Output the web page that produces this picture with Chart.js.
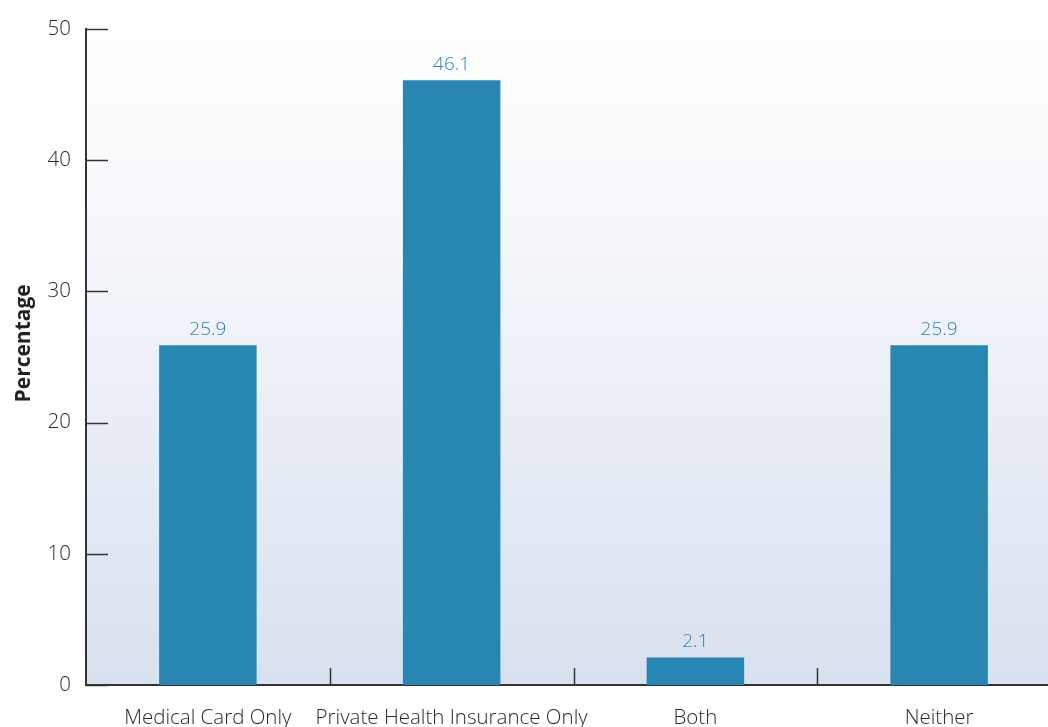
<!DOCTYPE html>
<html>
<head>
<meta charset="utf-8">
<script src="https://cdn.jsdelivr.net/npm/chart.js@4"></script>
<style>
  html, body { margin: 0; padding: 0; background: #fff; overflow: hidden; }
  #wrap { width: 1061px; height: 727px; }
</style>
</head>
<body>
<div id="wrap"><canvas id="c"></canvas></div>
<script>
const categories = ['Medical Card Only', 'Private Health Insurance Only', 'Both', 'Neither']
const percentages = [25.9, 46.1, 2.1, 25.9]
const yTicks = [0, 10, 20, 30, 40, 50]

const barColor = '#2886b3'
const axisColor = '#333333'
const textFont = 'Open Sans'

// gradient behind the bars
const backdrop = {
  id: 'backdrop',
  beforeDraw(chart) {
    const { ctx, chartArea: a } = chart
    const g = ctx.createLinearGradient(0, a.top, 0, a.bottom)
    g.addColorStop(0, '#ffffff')
    g.addColorStop(0.25, '#f8f9fc')
    g.addColorStop(1, '#d8e1ee')
    ctx.save()
    ctx.fillStyle = g
    ctx.fillRect(a.left, a.top, a.right - a.left, a.bottom - a.top)
    ctx.restore()
  }
}

// inward ticks + value labels
const marks = {
  id: 'marks',
  afterDraw(chart) {
    const { ctx, chartArea: a, scales } = chart
    const y = scales.y, x = scales.x
    ctx.save()
    ctx.strokeStyle = axisColor
    ctx.lineWidth = 1.5
    y.ticks.forEach((t, i) => {
      const py = Math.round(y.getPixelForTick(i)) + 0.5
      ctx.beginPath()
      ctx.moveTo(a.left, py)
      ctx.lineTo(a.left + 22, py)
      ctx.stroke()
    })
    for (let i = 0; i < categories.length - 1; i++) {
      const px = Math.round((x.getPixelForTick(i) + x.getPixelForTick(i + 1)) / 2) + 0.5
      ctx.beginPath()
      ctx.moveTo(px, a.bottom)
      ctx.lineTo(px, a.bottom - 17)
      ctx.stroke()
    }
    ctx.fillStyle = barColor
    ctx.font = '300 19px "' + textFont + '"'
    ctx.textAlign = 'center'
    ctx.textBaseline = 'middle'
    chart.getDatasetMeta(0).data.forEach((bar, i) => {
      ctx.fillText(percentages[i].toFixed(1), bar.x, bar.y - 16)
    })
    ctx.restore()
  }
}

new Chart(document.getElementById('c'), {
  type: 'bar',
  data: {
    labels: categories,
    datasets: [{
      data: percentages,
      backgroundColor: barColor,
      barPercentage: 0.4,
      categoryPercentage: 1
    }]
  },
  options: {
    responsive: true,
    maintainAspectRatio: false,
    animation: false,
    layout: { padding: { top: 29, right: 0, left: 0, bottom: 0 } },
    plugins: { legend: { display: false }, tooltip: { enabled: false } },
    scales: {
      x: {
        offset: true,
        grid: { display: false, drawTicks: false },
        border: { display: true, color: axisColor, width: 2 },
        ticks: { color: '#2a2a2a', font: { family: textFont, size: 20.5, weight: '300' }, padding: 21, maxRotation: 0, autoSkip: false },
        afterFit(s) { s.height = 42 }
      },
      y: {
        min: 0,
        max: 50,
        afterBuildTicks(s) { s.ticks = yTicks.map(v => ({ value: v })) },
        grid: { display: false, drawTicks: false },
        border: { display: true, color: axisColor, width: 2 },
        ticks: { color: '#2a2a2a', font: { family: textFont, size: 20.5, weight: '300' }, padding: 15 },
        title: {
          display: true,
          // leading spaces nudge the rotated title a bit upwards, like the original
          text: '\u00a0\u00a0\u00a0\u00a0\u00a0Percentage',
          color: '#222',
          font: { family: textFont, size: 21, weight: 'bold' },
          padding: { top: 11, bottom: 0 }
        },
        afterFit(s) { s.width = 86 }
      }
    }
  },
  plugins: [backdrop, marks]
})
</script>
</body>
</html>
